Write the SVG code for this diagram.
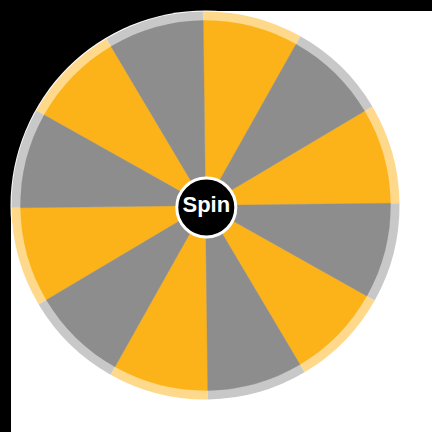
<svg xmlns="http://www.w3.org/2000/svg" width="432" height="432" viewBox="0 0 432 432">
  <style>
    .y { fill: #FCB31A; stroke: #FCB31A; stroke-width: 0.4; }
    .g { fill: #8D8D8D; stroke: #8D8D8D; stroke-width: 0.4; }
    .ly { fill: #FED98C; }
    .lg { fill: #C8C8C8; }
    .label { font-family: "Liberation Sans", Arial, sans-serif; font-weight: 700; font-size: 22px; fill: #FFFFFF; }
  </style>
  <rect x="0" y="0" width="432" height="432" fill="#000000"/>
  <rect x="11" y="11" width="421" height="421" fill="#FFFFFF"/>
  <rect x="11" y="11" width="195" height="195" fill="#000000"/>
  <circle cx="205.5" cy="205.5" r="195" fill="#FFFFFF"/>
  <g id="wheel" transform="translate(205.5,205.5) rotate(-0.7)">
    <path class="ly" d="M0 0 L0 -194 A194 194 0 0 1 97 -168.01 Z M0 0 L168.01 -97 A194 194 0 0 1 194 0 Z M0 0 L168.01 97 A194 194 0 0 1 97 168.01 Z M0 0 L0 194 A194 194 0 0 1 -97 168.01 Z M0 0 L-168.01 97 A194 194 0 0 1 -194 0 Z M0 0 L-168.01 -97 A194 194 0 0 1 -97 -168.01 Z"/>
    <path class="lg" d="M0 0 L97 -168.01 A194 194 0 0 1 168.01 -97 Z M0 0 L194 0 A194 194 0 0 1 168.01 97 Z M0 0 L97 168.01 A194 194 0 0 1 0 194 Z M0 0 L-97 168.01 A194 194 0 0 1 -168.01 97 Z M0 0 L-194 0 A194 194 0 0 1 -168.01 -97 Z M0 0 L-97 -168.01 A194 194 0 0 1 0 -194 Z"/>
    <path class="y" d="M0 0 L0 -185 A185 185 0 0 1 92.5 -160.21 Z M0 0 L160.21 -92.5 A185 185 0 0 1 185 0 Z M0 0 L160.21 92.5 A185 185 0 0 1 92.5 160.21 Z M0 0 L0 185 A185 185 0 0 1 -92.5 160.21 Z M0 0 L-160.21 92.5 A185 185 0 0 1 -185 0 Z M0 0 L-160.21 -92.5 A185 185 0 0 1 -92.5 -160.21 Z"/>
    <path class="g" d="M0 0 L92.5 -160.21 A185 185 0 0 1 160.21 -92.5 Z M0 0 L185 0 A185 185 0 0 1 160.21 92.5 Z M0 0 L92.5 160.21 A185 185 0 0 1 0 185 Z M0 0 L-92.5 160.21 A185 185 0 0 1 -160.21 92.5 Z M0 0 L-185 0 A185 185 0 0 1 -160.21 -92.5 Z M0 0 L-92.5 -160.21 A185 185 0 0 1 0 -185 Z"/>
  </g>
  <g id="spin">
    <circle cx="206.3" cy="207.5" r="29.5" fill="#000000" stroke="#FFFFFF" stroke-width="3"/>
    <text class="label" x="206.3" y="212" text-anchor="middle">Spin</text>
  </g>
</svg>
